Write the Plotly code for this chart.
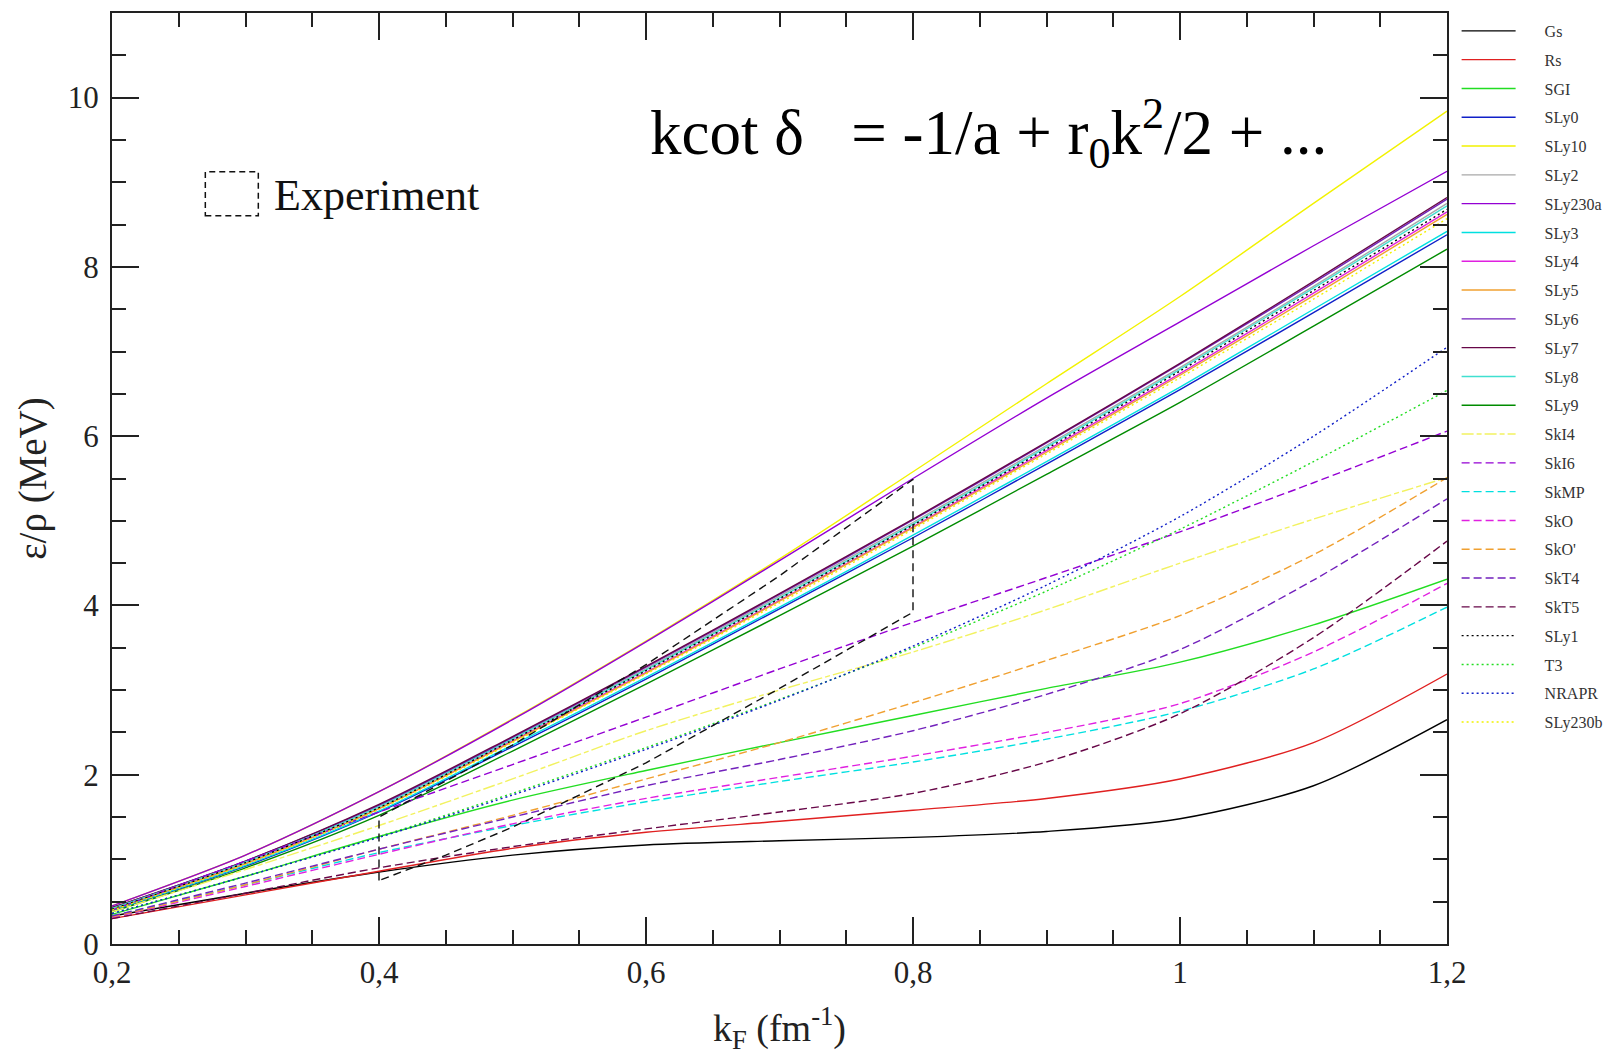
import plotly.graph_objects as go

kF = [0.2, 0.3, 0.4, 0.5, 0.6, 0.7, 0.8, 0.9, 1.0, 1.1, 1.2]

names = ["Gs", "Rs", "SGI", "SLy0", "SLy10", "SLy2", "SLy230a", "SLy3", "SLy4", "SLy5",
         "SLy6", "SLy7", "SLy8", "SLy9", "SkI4", "SkI6", "SkMP", "SkO", "SkO'", "SkT4",
         "SkT5", "SLy1", "T3", "NRAPR", "SLy230b"]

Gs      = [0.33, 0.60, 0.85, 1.05, 1.17, 1.22, 1.26, 1.33, 1.48, 1.87, 2.65]
Rs      = [0.30, 0.58, 0.86, 1.13, 1.32, 1.45, 1.58, 1.72, 1.95, 2.38, 3.19]
SGI     = [0.35, 0.80, 1.27, 1.70, 2.05, 2.38, 2.70, 3.02, 3.33, 3.77, 4.31]
SLy0    = [0.39, 0.92, 1.56, 2.33, 3.13, 3.96, 4.80, 5.67, 6.55, 7.46, 8.38]
SLy10   = [0.45, 1.05, 1.80, 2.66, 3.58, 4.55, 5.58, 6.62, 7.65, 8.75, 9.84]
SLy2    = [0.42, 0.97, 1.63, 2.43, 3.25, 4.11, 4.98, 5.89, 6.81, 7.77, 8.75]
SLy230a = [0.45, 1.05, 1.80, 2.65, 3.57, 4.53, 5.50, 6.45, 7.35, 8.25, 9.13]
SLy3    = [0.40, 0.93, 1.57, 2.35, 3.15, 3.98, 4.83, 5.70, 6.58, 7.50, 8.42]
SLy4    = [0.41, 0.95, 1.60, 2.40, 3.21, 4.06, 4.93, 5.83, 6.74, 7.69, 8.65]
SLy5    = [0.41, 0.95, 1.60, 2.39, 3.20, 4.05, 4.92, 5.81, 6.72, 7.66, 8.62]
SLy6    = [0.43, 0.98, 1.64, 2.44, 3.27, 4.13, 5.01, 5.92, 6.85, 7.81, 8.80]
SLy7    = [0.43, 0.98, 1.65, 2.45, 3.28, 4.14, 5.02, 5.93, 6.86, 7.83, 8.82]
SLy8    = [0.42, 0.97, 1.62, 2.42, 3.24, 4.09, 4.96, 5.87, 6.79, 7.75, 8.72]
SLy9    = [0.38, 0.90, 1.52, 2.28, 3.07, 3.88, 4.70, 5.55, 6.40, 7.30, 8.21]
SkI4    = [0.38, 0.88, 1.40, 1.95, 2.52, 3.00, 3.45, 3.95, 4.50, 5.02, 5.51]
SkI6    = [0.40, 0.98, 1.56, 2.12, 2.68, 3.25, 3.80, 4.33, 4.87, 5.45, 6.06]
SkMP    = [0.33, 0.70, 1.08, 1.40, 1.68, 1.92, 2.15, 2.42, 2.75, 3.25, 3.98]
SkO     = [0.31, 0.68, 1.06, 1.42, 1.72, 1.97, 2.22, 2.50, 2.84, 3.45, 4.26]
SkOp    = [0.32, 0.70, 1.12, 1.52, 1.95, 2.38, 2.85, 3.35, 3.88, 4.60, 5.51]
SkT4    = [0.33, 0.72, 1.12, 1.50, 1.87, 2.18, 2.52, 2.95, 3.48, 4.30, 5.26]
SkT5    = [0.30, 0.60, 0.90, 1.15, 1.36, 1.56, 1.78, 2.15, 2.72, 3.62, 4.76]
SLy1    = [0.41, 0.96, 1.61, 2.41, 3.23, 4.08, 4.95, 5.85, 6.77, 7.72, 8.68]
T3      = [0.36, 0.80, 1.27, 1.78, 2.32, 2.89, 3.50, 4.17, 4.90, 5.70, 6.54]
NRAPR   = [0.36, 0.80, 1.26, 1.76, 2.30, 2.88, 3.52, 4.24, 5.05, 6.00, 7.05]
SLy230b = [0.40, 0.94, 1.59, 2.38, 3.19, 4.03, 4.90, 5.79, 6.69, 7.62, 8.57]

series = [Gs, Rs, SGI, SLy0, SLy10, SLy2, SLy230a, SLy3, SLy4, SLy5, SLy6, SLy7, SLy8,
          SLy9, SkI4, SkI6, SkMP, SkO, SkOp, SkT4, SkT5, SLy1, T3, NRAPR, SLy230b]

colors = ["#000000", "#e02020", "#22dd22", "#1020c8", "#f2f200", "#a8a8a8", "#9400d3",
          "#00e0e0", "#e020e0", "#f0a030", "#7221bc", "#670748", "#40e0d0", "#008b00",
          "#f2f260", "#9400d3", "#00e0e0", "#e020e0", "#f0a030", "#7221bc", "#670748",
          "#000000", "#22dd22", "#1020c8", "#f2f200"]

SOLID, DASH, DOT, DASHDOT = "solid", "8px,4px", "2px,3px", "12px,3px,5px,3px"
dashes = [SOLID] * 14 + [DASHDOT] + [DASH] * 6 + [DOT] * 4

# Experimental band (dashed outline)
exp_x = [0.4, 0.4, 0.5, 0.6, 0.7, 0.8, 0.8, 0.7, 0.6, 0.5, 0.45, 0.4]
exp_y = [0.75, 1.5, 2.35, 3.3, 4.35, 5.49, 3.92, 3.02, 2.14, 1.38, 1.05, 0.75]

FONT = "Liberation Serif, Times New Roman, DejaVu Serif, serif"
PAD = "&nbsp;" * 6

fig = go.Figure()
for i, (nm, ys, c, d) in enumerate(zip(names, series, colors, dashes)):
    fig.add_trace(go.Scatter(
        x=kF, y=ys, mode="lines", name=PAD + nm, legendgroup=f"g{i}",
        line=dict(color=c, width=1.4, dash=d, shape="spline", smoothing=0.8),
    ))

fig.add_trace(go.Scatter(
    x=exp_x, y=exp_y, mode="lines", showlegend=False, name="Experiment",
    line=dict(color="#111111", width=1.4, dash="8px,5px"),
))

axis_common = dict(
    showline=True, linewidth=2, linecolor="#222222", mirror="ticks",
    ticks="inside", ticklen=27, tickwidth=1.5, tickcolor="#222222",
    showgrid=False, zeroline=False,
    tickfont=dict(family=FONT, size=31, color="#222222"),
    minor=dict(ticks="inside", ticklen=14, tickwidth=1.5, tickcolor="#222222", showgrid=False),
)

fig.update_xaxes(
    range=[0.2, 1.2], tick0=0.2, dtick=0.2, minor_dtick=0.05,
    title=dict(text="k<sub>F</sub> (fm<sup>-1</sup>)", font=dict(family=FONT, size=38, color="#222222"), standoff=25),
    **axis_common,
)
fig.update_yaxes(
    range=[0, 11], tick0=0, dtick=2, minor_dtick=0.5,
    ticklabelstandoff=5,
    title=dict(text="ε/ρ (MeV)", font=dict(family=FONT, size=39, color="#222222"), standoff=9),
    **axis_common,
)

fig.add_shape(type="rect", xref="paper", yref="paper",
              x0=0.0699, x1=0.1096, y0=0.7822, y1=0.8294,
              line=dict(color="#111111", width=1.5, dash="6px,4px"))
fig.add_annotation(xref="paper", yref="paper", x=0.1195, y=0.8036,
                   xanchor="left", yanchor="middle", showarrow=False,
                   text="Experiment", font=dict(family=FONT, size=44, color="#111111"))
fig.add_annotation(xref="paper", yref="paper", x=0.4018, y=0.871,
                   xanchor="left", yanchor="middle", showarrow=False,
                   text="kcot δ&nbsp;&nbsp; = -1/a + r<sub>0</sub>k<sup>2</sup>/2 + ...",
                   font=dict(family=FONT, size=63, color="#000000"))

fig.update_layout(
    width=1621, height=1064,
    margin=dict(l=112, r=174, t=11, b=120),
    paper_bgcolor="white", plot_bgcolor="white",
    separators=", ",
    showlegend=True,
    legend=dict(
        x=1.0072, xanchor="left", y=0.999, yanchor="top",
        traceorder="grouped", tracegroupgap=5,
        itemwidth=54, bgcolor="rgba(0,0,0,0)", borderwidth=0,
        font=dict(family=FONT, size=16, color="#333333"),
    ),
)

fig.write_html("out.html")
